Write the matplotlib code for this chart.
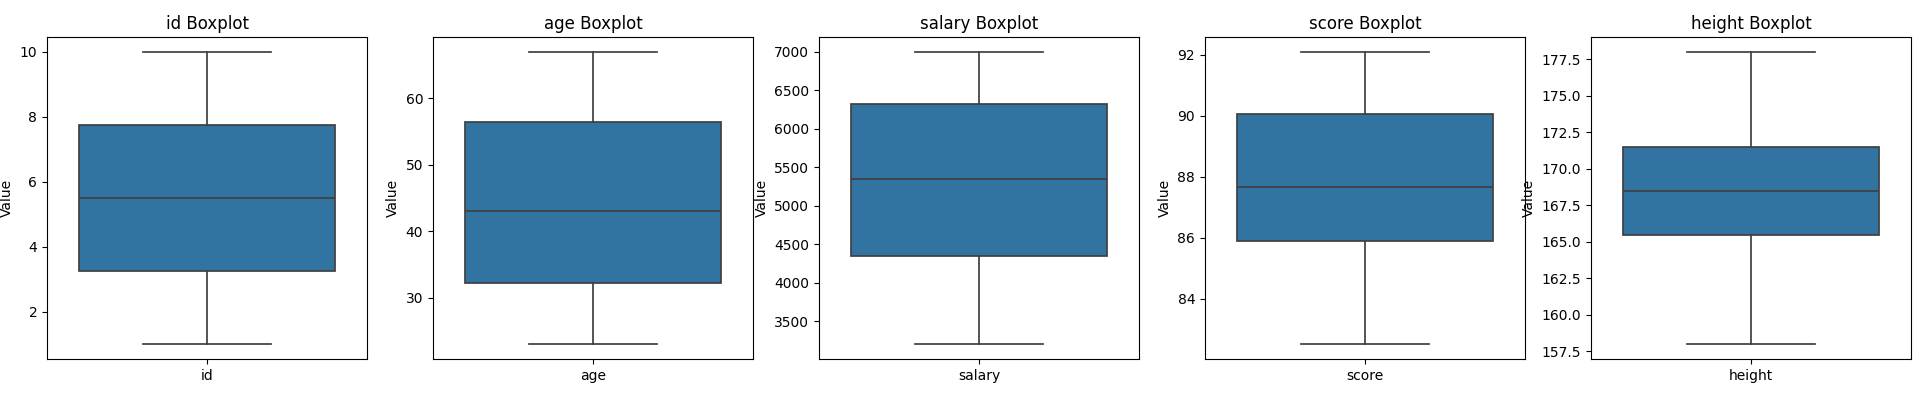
import matplotlib
matplotlib.use('Agg')
import matplotlib.pyplot as plt

# 各列的箱线图统计值（下须, Q1, 中位数, Q3, 上须）
columns = ['id', 'age', 'salary', 'score', 'height']
whisker_low = [1, 23, 3200, 82.5, 158]
q1 = [3.25, 32.25, 4350, 85.88, 165.5]
median = [5.5, 43, 5350, 87.65, 168.5]
q3 = [7.75, 56.5, 6325, 90.07, 171.5]
whisker_high = [10, 67, 7000, 92.1, 178]

box_color = '#3274a1'
line_color = '#3f3f3f'

fig, axes = plt.subplots(1, 5, figsize=(19.2, 4), dpi=100)

for i, ax in enumerate(axes):
    stats = [{
        'label': columns[i],
        'whislo': whisker_low[i],
        'q1': q1[i],
        'med': median[i],
        'q3': q3[i],
        'whishi': whisker_high[i],
        'fliers': [],
    }]
    ax.bxp(stats, positions=[0], widths=0.8, patch_artist=True, showfliers=False,
           boxprops=dict(facecolor=box_color, edgecolor=line_color, linewidth=1.25),
           medianprops=dict(color=line_color, linewidth=1.25),
           whiskerprops=dict(color=line_color, linewidth=1.25),
           capprops=dict(color=line_color, linewidth=1.25),
           capwidths=0.4)
    ax.set_xlim(-0.5, 0.5)
    ax.set_title(f'{columns[i]} Boxplot')
    ax.set_ylabel('Value')

plt.subplots_adjust(left=0.0245, right=0.9953, bottom=0.103, top=0.907, wspace=0.206)
plt.savefig('out.png')
